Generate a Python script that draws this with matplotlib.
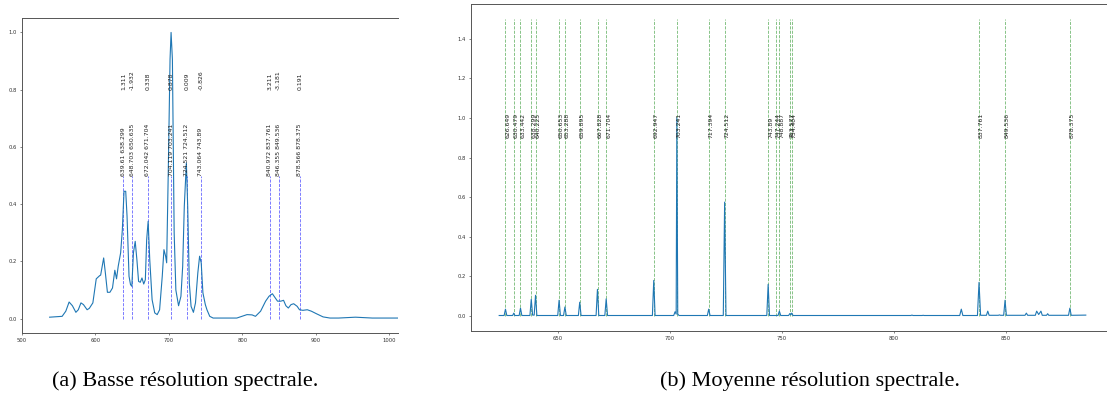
import matplotlib
matplotlib.use("Agg")
import matplotlib.pyplot as plt

# ---- (a) low resolution spectrum ----
low_wl = [538, 555, 560, 564.5, 569, 573.7, 577, 580.6, 584, 589, 592, 596.8,
          601.4, 606, 607.4, 611.5, 613.8, 616.6, 620, 623.5, 626.7, 629, 631.3,
          634.6, 636.9, 639.2, 641.5, 643.3, 646, 648, 649.8, 652, 654.4, 656.7,
          659, 661.3, 663.6, 666, 668.2, 670, 672, 674.2, 677.4, 681, 684.3,
          687.6, 691.2, 693.5, 695.8, 697.2, 699.5, 701.8, 703.2, 705, 707.4,
          709.7, 713.4, 716.6, 719, 721.2, 724, 725.8, 728, 730.4, 733.6, 736.4,
          739.6, 742, 744.2, 746.5, 749.8, 752, 755.8, 760.4, 792.6, 806.5,
          813.4, 818, 825, 831.8, 836.4, 841, 844.2, 848, 852.5, 856.2, 859.4,
          862.7, 866.4, 870, 874.7, 877.9, 882.5, 888.5, 894, 901, 910, 919.4,
          931, 954, 977, 1009, 1020]
low_int = [0.005, 0.008, 0.026, 0.058, 0.045, 0.022, 0.031, 0.055, 0.049, 0.031,
           0.036, 0.055, 0.139, 0.150, 0.152, 0.212, 0.160, 0.092, 0.092, 0.107,
           0.169, 0.139, 0.183, 0.230, 0.310, 0.445, 0.445, 0.358, 0.148, 0.119,
           0.113, 0.230, 0.270, 0.206, 0.130, 0.127, 0.142, 0.121, 0.136, 0.276,
           0.340, 0.206, 0.066, 0.020, 0.014, 0.031, 0.148, 0.241, 0.218, 0.195,
           0.530, 0.906, 1.000, 0.906, 0.300, 0.100, 0.045, 0.078, 0.183, 0.393,
           0.544, 0.393, 0.125, 0.043, 0.022, 0.055, 0.160, 0.218, 0.195, 0.090,
           0.049, 0.031, 0.008, 0.002, 0.002, 0.014, 0.013, 0.008, 0.026, 0.061,
           0.078, 0.087, 0.075, 0.061, 0.061, 0.064, 0.045, 0.037, 0.049, 0.052,
           0.043, 0.031, 0.029, 0.031, 0.026, 0.017, 0.006, 0.002, 0.002, 0.005,
           0.002, 0.002, 0.002]

# reference lines and measured positions (a)
ref_a = [638.299, 650.635, 671.704, 703.241, 724.512, 743.89, 837.761, 849.536, 878.375]
meas_a = [639.61, 648.703, 672.042, 704.119, 724.521, 743.064, 840.972, 846.355, 878.566]

# ---- (b) medium resolution spectrum ----
mid_wl = [624, 626.2, 626.8, 627.4, 630.0, 630.5, 631.0, 632.9, 633.5, 634.1,
          637.7, 638.3, 638.9, 639.6, 640.2, 640.8, 650.1, 650.7, 651.3, 652.7,
          653.3, 653.9, 659.3, 659.9, 660.5, 667.2, 667.8, 668.4, 671.1, 671.7,
          672.3, 692.3, 692.9, 693.5, 701.8, 702.4, 702.9, 703.2, 703.6, 704.2,
          716.8, 717.4, 718.0, 723.9, 724.5, 725.1, 743.3, 743.9, 744.5, 748.3,
          748.9, 749.5, 753.0, 753.6, 754.0, 754.4, 755.0, 807.5, 808.0, 808.5,
          812.5, 813.0, 813.5, 829.3, 830.0, 830.7, 837.2, 837.9, 838.6, 841.2,
          841.8, 842.4, 846.5, 847.0, 847.5, 848.9, 849.5, 850.1, 858.4, 859.0,
          859.6, 863.0, 863.6, 864.5, 865.5, 866.1, 868.0, 868.5, 869.0, 877.8,
          878.4, 879.0, 885.5]
mid_int = [0.003, 0.003, 0.035, 0.003, 0.003, 0.015, 0.003, 0.003, 0.040, 0.003,
           0.003, 0.085, 0.005, 0.005, 0.105, 0.003, 0.003, 0.080, 0.003, 0.003,
           0.046, 0.003, 0.003, 0.070, 0.003, 0.003, 0.135, 0.003, 0.003, 0.087,
           0.003, 0.003, 0.180, 0.003, 0.003, 0.022, 0.010, 1.000, 0.010, 0.003,
           0.003, 0.035, 0.003, 0.003, 0.575, 0.003, 0.003, 0.160, 0.003, 0.003,
           0.025, 0.003, 0.003, 0.013, 0.006, 0.015, 0.003, 0.003, 0.005, 0.003,
           0.003, 0.004, 0.003, 0.003, 0.035, 0.003, 0.003, 0.170, 0.004, 0.004,
           0.025, 0.004, 0.004, 0.006, 0.004, 0.004, 0.080, 0.004, 0.004, 0.015,
           0.004, 0.004, 0.025, 0.008, 0.025, 0.004, 0.004, 0.012, 0.004, 0.004,
           0.040, 0.004, 0.005]

# neon reference lines (b)
ref_b = [626.649, 630.479, 633.442, 638.299, 640.225, 650.653, 653.288, 659.895,
         667.828, 671.704, 692.947, 703.241, 717.394, 724.512, 743.89, 747.244,
         748.887, 753.577, 754.404, 837.761, 849.536, 878.375]

fig = plt.figure(figsize=(11.07, 3.94), dpi=100)

tick_fs = 3.8
ann_fs = 4.4
spine_c = '#555555'


def style_axes(ax):
    for s in ax.spines.values():
        s.set_color(spine_c)
        s.set_linewidth(0.7)
    ax.tick_params(labelsize=tick_fs, length=1.5, width=0.5, colors=spine_c,
                   labelcolor='#333333', pad=2)


# ---- left panel ----
ax1 = fig.add_axes([0.0196, 0.155, 0.34, 0.799])
ax1.plot(low_wl, low_int, color='#1f77b4', lw=0.8, zorder=3)
for r, m in zip(ref_a, meas_a):
    ax1.vlines(r, 0, 0.5, colors='blue', linestyles='--', lw=0.6, alpha=0.6)
    ax1.text(r, 0.5, f"{m} {r}", rotation=90, ha='center', va='bottom',
             fontsize=ann_fs, color='#222222')
    ax1.text(r, 0.8, f"{round(m - r, 3)}", rotation=90, ha='center', va='bottom',
             fontsize=ann_fs, color='#222222')
ax1.set_xlim(500, 1012)
ax1.set_ylim(-0.05, 1.05)
ax1.set_xticks([500, 600, 700, 800, 900, 1000])
ax1.set_yticks([0.0, 0.2, 0.4, 0.6, 0.8, 1.0])
style_axes(ax1)
ax1.spines['right'].set_visible(False)

# ---- right panel ----
ax2 = fig.add_axes([0.4252, 0.16, 0.583, 0.83])
ax2.plot(mid_wl, mid_int, color='#1f77b4', lw=0.8, zorder=3)
for r in ref_b:
    ax2.vlines(r, 0, 1.5, colors='green', linestyles='--', lw=0.6, alpha=0.55)
    ax2.text(r, 0.9, f"{r}", rotation=90, ha='left', va='bottom',
             fontsize=ann_fs, color='#222222')
ax2.set_xlim(611.3, 899)
ax2.set_ylim(-0.075, 1.575)
ax2.set_xticks([650, 700, 750, 800, 850])
ax2.set_yticks([0.0, 0.2, 0.4, 0.6, 0.8, 1.0, 1.2, 1.4])
style_axes(ax2)

# captions
cap_font = 'Liberation Serif'
fig.text(185 / 1107, 1 - 381 / 394, "(a) Basse résolution spectrale.",
         ha='center', va='center', fontsize=16, family=cap_font)
fig.text(810 / 1107, 1 - 381 / 394, "(b) Moyenne résolution spectrale.",
         ha='center', va='center', fontsize=16, family=cap_font)

fig.savefig("out.png", dpi=100)
